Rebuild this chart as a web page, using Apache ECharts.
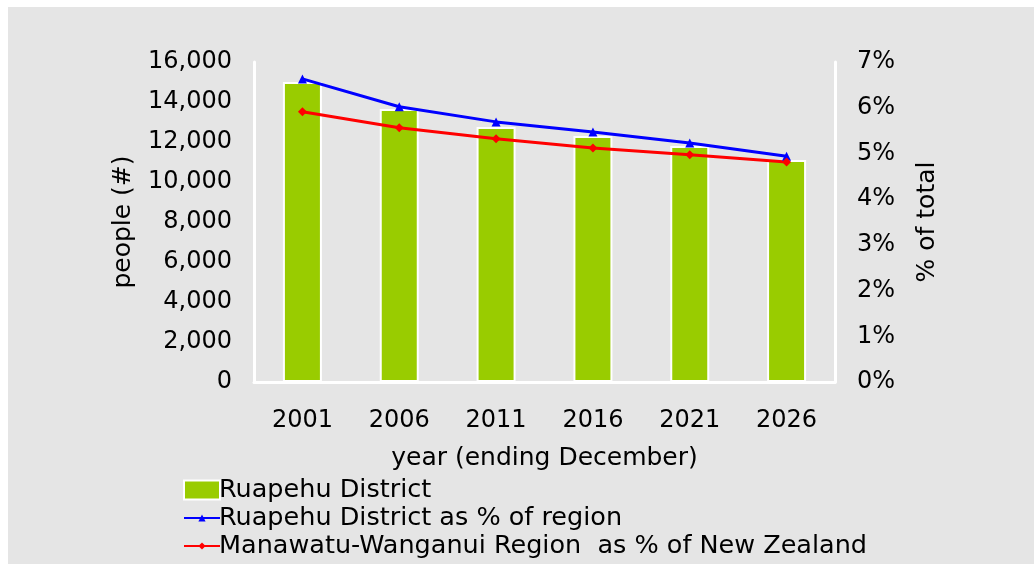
<!DOCTYPE html>
<html>
<head>
<meta charset="utf-8">
<script src="https://cdn.jsdelivr.net/npm/echarts@6/dist/echarts.min.js"></script>
<style>
body { margin: 0; background: #fff; }
#bg { position: absolute; left: 8px; top: 7px; width: 1026px; height: 557px; background: #e5e5e5; }
#main { position: absolute; left: 0; top: 0; width: 1034px; height: 564px; }
</style>
</head>
<body>
<div id="bg"></div>
<div id="main"></div>
<script>
//年份
var years = ['2001', '2006', '2011', '2016', '2021', '2026']
//人口
var people = [15000, 13650, 12750, 12300, 11800, 11100]
//占地区百分比
var pctRegion = [6.63, 6.02, 5.69, 5.47, 5.23, 4.94]
//地区占全国百分比
var pctNZ = [5.91, 5.56, 5.32, 5.12, 4.97, 4.81]
var names = ['Ruapehu District', 'Ruapehu District as % of region', 'Manawatu-Wanganui Region  as % of New Zealand']
var font = 'DejaVu Sans'
var tickSize = 24
var nameSize = 25

//图例每行一个
function legendRow(item, top, h) {
	return {
		data: [item],
		orient: 'vertical',
		left: 178,
		top: top,
		itemWidth: 36,
		itemHeight: h,
		textStyle: { fontFamily: font, fontSize: 25.5, color: '#000', padding: [0, 0, 0, -6] }
	}
}

var myChart = echarts.init(document.getElementById('main'));
var option = {
	backgroundColor: 'transparent',
	textStyle: { fontFamily: font, color: '#000' },
	grid: { left: 254, right: 199, top: 62, bottom: 182 },
	legend: [
		legendRow({ name: names[0], icon: 'rect' }, 472, 19),
		legendRow(names[1], 500, 9),
		legendRow(names[2], 528, 9)
	],
	xAxis: {
		type: 'category',
		data: years,
		name: 'year (ending December)',
		nameLocation: 'middle',
		nameGap: 64,
		nameTextStyle: { fontFamily: font, fontSize: nameSize, color: '#000' },
		axisLine: { lineStyle: { color: '#fff', width: 3 } },
		axisTick: { show: false },
		axisLabel: { fontFamily: font, fontSize: tickSize, color: '#000', margin: 27 }
	},
	yAxis: [{
		type: 'value',
		min: 0,
		max: 16000,
		interval: 2000,
		name: 'people (#)',
		nameLocation: 'middle',
		nameGap: 118,
		nameRotate: 90,
		nameTextStyle: { fontFamily: font, fontSize: nameSize, color: '#000' },
		axisLine: { show: true, lineStyle: { color: '#fff', width: 3 } },
		axisTick: { show: false },
		splitLine: { show: false },
		axisLabel: {
			fontFamily: font, fontSize: tickSize, color: '#000', margin: 22,
			formatter: function (v) { return v.toLocaleString('en-US') }
		}
	}, {
		type: 'value',
		min: 0,
		max: 7,
		interval: 1,
		name: '% of total',
		nameLocation: 'middle',
		nameGap: 80,
		nameRotate: 90,
		nameTextStyle: { fontFamily: font, fontSize: nameSize, color: '#000' },
		axisLine: { show: true, lineStyle: { color: '#fff', width: 3 } },
		axisTick: { show: false },
		splitLine: { show: false },
		axisLabel: { fontFamily: font, fontSize: tickSize, color: '#000', margin: 22, formatter: '{value}%' }
	}],
	series: [{
		name: names[0],
		type: 'bar',
		data: people,
		barWidth: 39,
		itemStyle: { color: '#99cc00', borderColor: '#fff', borderWidth: 2 }
	}, {
		name: names[1],
		type: 'line',
		yAxisIndex: 1,
		data: pctRegion,
		symbol: 'triangle',
		symbolSize: 9,
		lineStyle: { color: '#0000ff', width: 3 },
		itemStyle: { color: '#0000ff' }
	}, {
		name: names[2],
		type: 'line',
		yAxisIndex: 1,
		data: pctNZ,
		symbol: 'diamond',
		symbolSize: 9,
		lineStyle: { color: '#ff0000', width: 3 },
		itemStyle: { color: '#ff0000' }
	}]
};
myChart.setOption(option, true);
</script>
</body>
</html>
